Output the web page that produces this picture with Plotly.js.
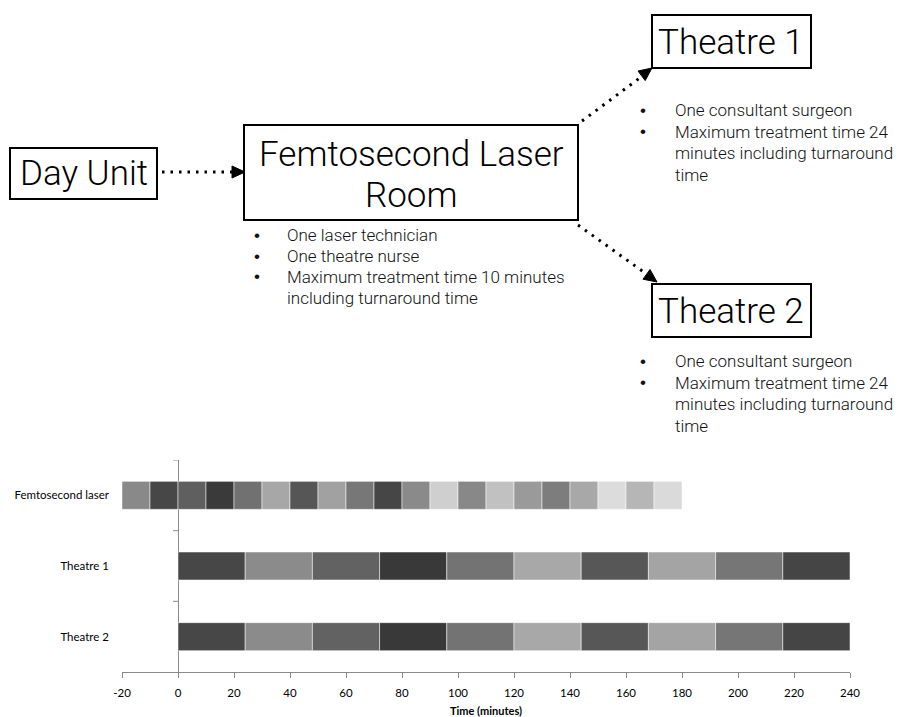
<!DOCTYPE html>
<html><head><meta charset="utf-8">
<script src="https://cdn.plot.ly/plotly-3.0.1.min.js"></script>
<style>html,body{margin:0;padding:0;background:#fff}#chart{width:906px;height:717px}</style>
</head><body><div id="chart"></div>
<script>
// ---- chart data ----
const categories = ['Femtosecond laser', 'Theatre 1', 'Theatre 2'];
const laserStarts = [-20, -10, 0, 10, 20, 30, 40, 50, 60, 70, 80, 90, 100, 110, 120, 130, 140, 150, 160, 170];
const laserDurations = [10, 10, 10, 10, 10, 10, 10, 10, 10, 10, 10, 10, 10, 10, 10, 10, 10, 10, 10, 10];
const laserColors = ['#898989', '#474747', '#5f5f5f', '#3a3a3a', '#717171', '#a7a7a7', '#565656', '#a1a1a1', '#777777', '#464646',
                     '#8a8a8a', '#cfcfcf', '#888888', '#c1c1c1', '#9a9a9a', '#7d7d7d', '#a8a8a8', '#dcdcdc', '#b6b6b6', '#dadada'];
const theatreStarts = [0, 24, 48, 72, 96, 120, 144, 168, 192, 216];
const theatreDurations = [24, 24, 24, 24, 24, 24, 24, 24, 24, 24];
const theatre1Colors = ['#474747', '#8b8b8b', '#626262', '#393939', '#737373', '#a8a8a8', '#575757', '#a4a4a4', '#767676', '#454545'];
const theatre2Colors = ['#474747', '#8b8b8b', '#626262', '#393939', '#737373', '#a8a8a8', '#575757', '#a4a4a4', '#767676', '#454545'];
const xTickVals = [-20, 0, 20, 40, 60, 80, 100, 120, 140, 160, 180, 200, 220, 240];
const xTickText = ['-20', '0', '20', '40', '60', '80', '100', '120', '140', '160', '180', '200', '220', '240'];
const xTitle = 'Time (minutes)';

// ---- diagram text ----
const boxDay = ['Day Unit'];
const boxLaser = ['Femtosecond Laser', 'Room'];
const boxT1 = ['Theatre 1'];
const boxT2 = ['Theatre 2'];
const laserNotes = ['One laser technician', 'One theatre nurse', 'Maximum treatment time 10 minutes', 'including turnaround time'];
const laserBullets = [true, true, true, false];
const theatre1Notes = ['One consultant surgeon', 'Maximum treatment time 24', 'minutes including turnaround', 'time'];
const theatre2Notes = ['One consultant surgeon', 'Maximum treatment time 24', 'minutes including turnaround', 'time'];
const theatreBullets = [true, true, false, false];

const W = 906, H = 717;
const px = x => x / W;
const py = y => 1 - y / H;

const barLine = {color: 'rgba(255,255,255,0.5)', width: 1};
const traces = [
  {type: 'bar', orientation: 'h', y: laserStarts.map(() => categories[0]), base: laserStarts, x: laserDurations,
   marker: {color: laserColors, line: barLine}, hoverinfo: 'skip'},
  {type: 'bar', orientation: 'h', y: theatreStarts.map(() => categories[1]), base: theatreStarts, x: theatreDurations,
   marker: {color: theatre1Colors, line: barLine}, hoverinfo: 'skip'},
  {type: 'bar', orientation: 'h', y: theatreStarts.map(() => categories[2]), base: theatreStarts, x: theatreDurations,
   marker: {color: theatre2Colors, line: barLine}, hoverinfo: 'skip'}
];

const diagFont = {family: 'Roboto, "Liberation Sans", sans-serif', size: 35, color: '#000', weight: 300};
const noteFont = {family: 'Roboto, "Liberation Sans", sans-serif', size: 17, color: '#111', weight: 300};
const bulletFont = {family: '"Liberation Sans", Arial, sans-serif', size: 17, color: '#111'};

const shapes = [];
const annotations = [];

// y-axis boundary ticks at x = 0
[-0.5, 0.5, 1.5].forEach(b => shapes.push({type: 'line', xref: 'x', yref: 'y', xsizemode: 'pixel', xanchor: 0,
  x0: -5, x1: 0, y0: b, y1: b, line: {color: '#8a8a8a', width: 1}}));

function rect(x0, y0, x1, y1) {
  shapes.push({type: 'rect', xref: 'paper', yref: 'paper', x0: px(x0), x1: px(x1), y0: py(y0), y1: py(y1),
    line: {color: '#000', width: 2}, fillcolor: 'rgba(0,0,0,0)'});
}
function dotted(x0, y0, x1, y1) {
  shapes.push({type: 'line', xref: 'paper', yref: 'paper', x0: px(x0), x1: px(x1), y0: py(y0), y1: py(y1),
    line: {color: '#000', width: 3, dash: '2.5px,6px'}});
}
function head(fx, fy, tx, ty) {
  const dx = tx - fx, dy = ty - fy, L = Math.hypot(dx, dy);
  const ux = dx / L, uy = dy / L, len = 13, hw = 6;
  const bx = tx - ux * len, by = ty - uy * len;
  const p1 = [bx - uy * hw, by + ux * hw], p2 = [bx + uy * hw, by - ux * hw];
  shapes.push({type: 'path', xref: 'paper', yref: 'paper',
    path: `M ${px(tx)} ${py(ty)} L ${px(p1[0])} ${py(p1[1])} L ${px(p2[0])} ${py(p2[1])} Z`,
    fillcolor: '#000', line: {color: '#000', width: 1}});
}
function label(text, x, y, font, anchor) {
  annotations.push({text: text, xref: 'paper', yref: 'paper', x: px(x), y: py(y), showarrow: false,
    xanchor: anchor || 'center', yanchor: 'middle', font: font});
}
function notes(lines, bullets, bx, tx, y0, dy) {
  lines.forEach((t, i) => {
    if (bullets[i]) label('•', bx, y0 + i * dy, bulletFont, 'center');
    label(t, tx, y0 + i * dy, noteFont, 'left');
  });
}

rect(10, 148, 157, 199);
rect(244, 125, 578, 220);
rect(652, 15, 811, 68);
rect(652, 284, 811, 337);

dotted(162, 172, 234, 172); head(162, 172, 245, 172);
dotted(582, 121, 641, 77); head(580, 122, 652, 68);
dotted(578, 225, 645, 273); head(576, 223, 657, 282);

label(boxDay[0], 84, 174, diagFont);
label(boxLaser[0], 411, 154, diagFont);
label(boxLaser[1], 411, 195, diagFont);
label(boxT1[0], 731, 42, diagFont);
label(boxT2[0], 731, 311, diagFont);

notes(laserNotes, laserBullets, 257, 285, 235, 21);
notes(theatre1Notes, theatreBullets, 643, 673, 110, 21.5);
notes(theatre2Notes, theatreBullets, 643, 673, 361, 21.5);

const tickFont = {family: 'Lato, "Open Sans", sans-serif', size: 11.5, color: '#000'};
const layout = {
  width: W, height: H,
  margin: {l: 0, r: 0, t: 0, b: 0},
  paper_bgcolor: '#fff', plot_bgcolor: '#fff',
  showlegend: false,
  barmode: 'overlay',
  bargap: 0.604,
  xaxis: {
    domain: [px(122), px(850)], range: [-20, 240], tickmode: 'array', tickvals: xTickVals, ticktext: xTickText,
    ticks: 'outside', ticklen: 5, tickcolor: '#8a8a8a', showline: true, linecolor: '#8a8a8a', linewidth: 1,
    zeroline: true, zerolinecolor: '#8a8a8a', zerolinewidth: 1, showgrid: false,
    tickfont: tickFont, ticklabelstandoff: 5, automargin: false, fixedrange: true,
    title: {text: xTitle, font: {family: 'Lato, "Open Sans", sans-serif', size: 11, color: '#000', weight: 'bold'}, standoff: 11}
  },
  yaxis: {
    domain: [1 - 672 / H, 1 - 460 / H], type: 'category', categoryorder: 'array', categoryarray: categories,
    range: [2.5, -0.5], showgrid: false, showline: false, zeroline: false, ticks: '',
    ticklabelstandoff: 12, tickfont: tickFont, automargin: false, fixedrange: true
  },
  shapes: shapes,
  annotations: annotations
};

Plotly.newPlot('chart', traces, layout, {staticPlot: true, displayModeBar: false});
</script>
</body></html>
